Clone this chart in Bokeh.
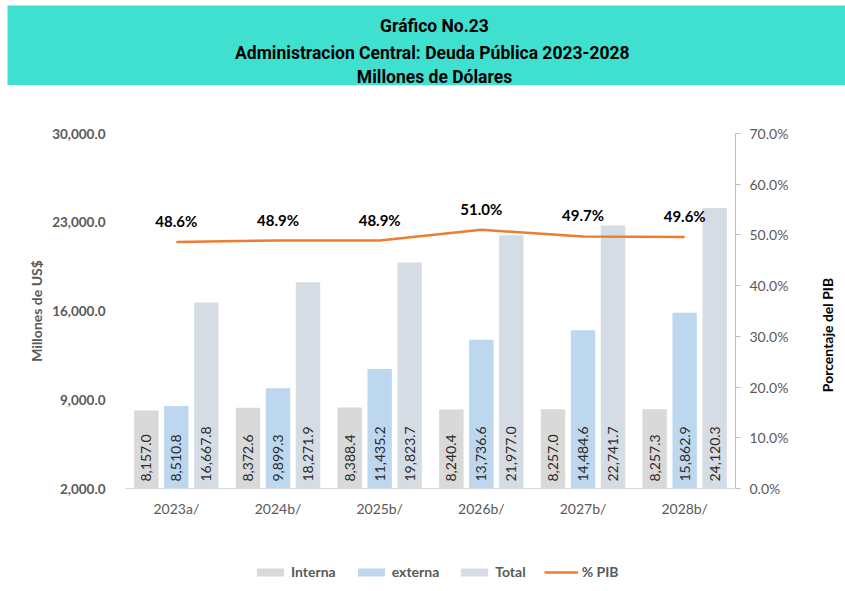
import math
from bokeh.plotting import figure
from bokeh.models import (ColumnDataSource, FactorRange, Range1d, LinearAxis, FixedTicker,
                          NumeralTickFormatter, PrintfTickFormatter, Legend, LegendItem)
from bokeh.transform import dodge
from bokeh.layouts import column, row
from bokeh.embed import file_html
from bokeh.resources import INLINE
from bokeh.core.properties import value

# ---------------- data ----------------
years = ["2023a/", "2024b/", "2025b/", "2026b/", "2027b/", "2028b/"]
interna = [8157.0, 8372.6, 8388.4, 8240.4, 8257.0, 8257.3]
externa = [8510.8, 9899.3, 11435.2, 13736.6, 14484.6, 15862.9]
total = [16667.8, 18271.9, 19823.7, 21977.0, 22741.7, 24120.3]
pib = [48.6, 48.9, 48.9, 51.0, 49.7, 49.6]
left_ticks = [2000, 9000, 16000, 23000, 30000]
right_ticks = [0, 10, 20, 30, 40, 50, 60, 70]
title_lines = ["Gráfico No.23",
               "Administracion Central: Deuda Pública  2023-2028",
               "Millones de Dólares"]
right_title = ["Porcentaje del PIB"]
legend_labels = ["Interna", "externa", "Total", "% PIB"]

C_INT = "#D9D9D9"
C_EXT = "#BDD7EE"
C_TOT = "#D6DCE4"
C_PIB = "#ED7D31"
TEAL = "#40E0D0"
GRAY = "#595959"
FONT = "Lato"
TFONT = "Roboto"

W = 838          # full width (with 7px left margin -> 845)
L, R = 118, 110  # side borders -> frame 610 px wide
WL = 30          # width of the strip holding the right axis title
CH = 437         # chart height


def bare(fig, fill):
    fig.outline_line_color = None
    fig.grid.visible = False
    fig.background_fill_color = fill
    fig.border_fill_color = fill
    return fig


# ---------------- title band ----------------
band = figure(width=W, height=80, margin=(5, 0, 0, 7),
              x_range=Range1d(0, W), y_range=Range1d(0, 80),
              x_axis_location=None, y_axis_location=None,
              output_backend="svg", toolbar_location=None,
              min_border_left=0, min_border_right=0, min_border_top=0, min_border_bottom=0)
bare(band, TEAL)
tsrc = ColumnDataSource(dict(x=[427, 427, 427], y=[60, 33, 9], t=title_lines))
band.text(x="x", y="y", text="t", source=tsrc, text_align="center", text_baseline="alphabetic",
          text_font=value(TFONT), text_font_style="bold", text_font_size="17.5px",
          text_color="black")

shadow = figure(width=W, height=3, margin=(0, 0, 0, 7),
                x_range=Range1d(0, 1), y_range=Range1d(0, 1),
                x_axis_location=None, y_axis_location=None,
                output_backend="svg", toolbar_location=None,
                min_border_left=0, min_border_right=0, min_border_top=0, min_border_bottom=0)
bare(shadow, "#D4D4D4")

# ---------------- chart ----------------
p = figure(width=W - WL, height=CH, margin=(0, 0, 0, 7),
           x_range=FactorRange(factors=years), y_range=Range1d(2000, 30000),
           output_backend="svg", toolbar_location=None,
           min_border_left=L, min_border_right=R - WL, min_border_top=45, min_border_bottom=37)
p.extra_y_ranges = {"pct": Range1d(0, 70)}
bare(p, "white")

src = ColumnDataSource(dict(
    year=years, interna=interna, externa=externa, total=total, pib=pib,
    base=[2000] * len(years),
    interna_t=[f"{v:,.1f}" for v in interna],
    externa_t=[f"{v:,.1f}" for v in externa],
    total_t=[f"{v:,.1f}" for v in total],
    pib_t=[f"{v:.1f}%" for v in pib],
))

OFF = 0.295
BW = 0.24
p.vbar(x=dodge("year", -OFF, range=p.x_range), top="interna", bottom="base", width=BW,
       source=src, fill_color=C_INT, line_color=None)
p.vbar(x=dodge("year", 0.0, range=p.x_range), top="externa", bottom="base", width=BW,
       source=src, fill_color=C_EXT, line_color=None)
p.vbar(x=dodge("year", OFF, range=p.x_range), top="total", bottom="base", width=BW,
       source=src, fill_color=C_TOT, line_color=None)

for off, col in [(-OFF, "interna_t"), (0.0, "externa_t"), (OFF, "total_t")]:
    p.text(x=dodge("year", off, range=p.x_range), y="base", text=col, source=src,
           angle=math.pi / 2, text_align="left", text_baseline="middle", y_offset=-7,
           text_font=value(FONT), text_font_size="14px", text_color="#2B2B2B")

p.line(x="year", y="pib", source=src, y_range_name="pct", line_color=C_PIB, line_width=2.5)
p.text(x="year", y="pib", text="pib_t", source=src, y_range_name="pct", y_offset=-21,
       text_align="center", text_baseline="middle", text_font=value(FONT),
       text_font_style="bold", text_font_size="15px", text_color="black")

# left axis
ya = p.yaxis[0]
ya.ticker = FixedTicker(ticks=left_ticks)
ya.formatter = NumeralTickFormatter(format="0,0.0")
ya.axis_line_color = None
ya.major_tick_line_color = None
ya.major_tick_out = 0
ya.major_tick_in = 0
ya.minor_tick_line_color = None
ya.major_label_standoff = 20
ya.major_label_text_font = FONT
ya.major_label_text_font_style = "bold"
ya.major_label_text_font_size = "13.5px"
ya.major_label_text_color = GRAY
ya.axis_label = "Millones de US$"
ya.axis_label_standoff = 4
ya.axis_label_text_font = FONT
ya.axis_label_text_font_style = "bold"
ya.axis_label_text_font_size = "14px"
ya.axis_label_text_color = GRAY

# right axis (its title is drawn in the strip next to the chart)
ra = LinearAxis(y_range_name="pct", ticker=FixedTicker(ticks=right_ticks),
                formatter=PrintfTickFormatter(format="%.1f%%"))
ra.axis_line_color = "#BFBFBF"
ra.major_tick_line_color = "#BFBFBF"
ra.major_tick_in = 0
ra.major_tick_out = 5
ra.minor_tick_line_color = None
ra.major_label_standoff = 9
ra.major_label_text_font = FONT
ra.major_label_text_font_size = "14px"
ra.major_label_text_color = GRAY
p.add_layout(ra, "right")

# x axis
xa = p.xaxis[0]
xa.axis_line_color = "#D9D9D9"
xa.major_tick_line_color = None
xa.major_tick_out = 0
xa.major_tick_in = 0
xa.minor_tick_line_color = None
xa.major_label_standoff = 11
xa.major_label_text_font = FONT
xa.major_label_text_font_size = "14px"
xa.major_label_text_color = GRAY

# strip with the right axis title, reading bottom to top
lab = figure(width=WL, height=CH, x_range=Range1d(0, WL), y_range=Range1d(0, CH),
             x_axis_location=None, y_axis_location=None,
             output_backend="svg", toolbar_location=None,
             min_border_left=0, min_border_right=0, min_border_top=0, min_border_bottom=0)
bare(lab, "white")
lsrc = ColumnDataSource(dict(x=[12], y=[189], t=right_title))
lab.text(x="x", y="y", text="t", source=lsrc, angle=math.pi / 2, text_align="center",
         text_baseline="middle", text_font=value(FONT), text_font_style="bold",
         text_font_size="14px", text_color="black")

# ---------------- legend strip ----------------
lg = figure(width=W, height=66, margin=(0, 0, 0, 7),
            x_range=FactorRange(factors=years), y_range=Range1d(0, 1),
            x_axis_location=None, y_axis_location=None,
            output_backend="svg", toolbar_location=None,
            min_border_left=L, min_border_right=R, min_border_top=0, min_border_bottom=0)
bare(lg, "white")
g1 = lg.vbar(x="year", top="interna", bottom="base", width=BW, source=src,
             fill_color=C_INT, line_color=None, visible=False)
g2 = lg.vbar(x="year", top="externa", bottom="base", width=BW, source=src,
             fill_color=C_EXT, line_color=None, visible=False)
g3 = lg.vbar(x="year", top="total", bottom="base", width=BW, source=src,
             fill_color=C_TOT, line_color=None, visible=False)
g4 = lg.line(x="year", y="pib", source=src, line_color=C_PIB, line_width=2.5, visible=False)
legend = Legend(items=[LegendItem(label=t, renderers=[r])
                       for t, r in zip(legend_labels, [g1, g2, g3, g4])],
                orientation="horizontal", location=(128, 11),
                glyph_width=34, glyph_height=10, label_standoff=4, spacing=18,
                padding=0, margin=0, border_line_color=None, background_fill_alpha=0,
                inactive_fill_alpha=0,
                label_text_font=FONT, label_text_font_style="bold",
                label_text_font_size="14px", label_text_color=GRAY, label_height=14)
lg.add_layout(legend)

layout = column(row(band), row(shadow), row(p, lab, spacing=0), lg, spacing=0)
open("out.html", "w").write(file_html(layout, INLINE))
